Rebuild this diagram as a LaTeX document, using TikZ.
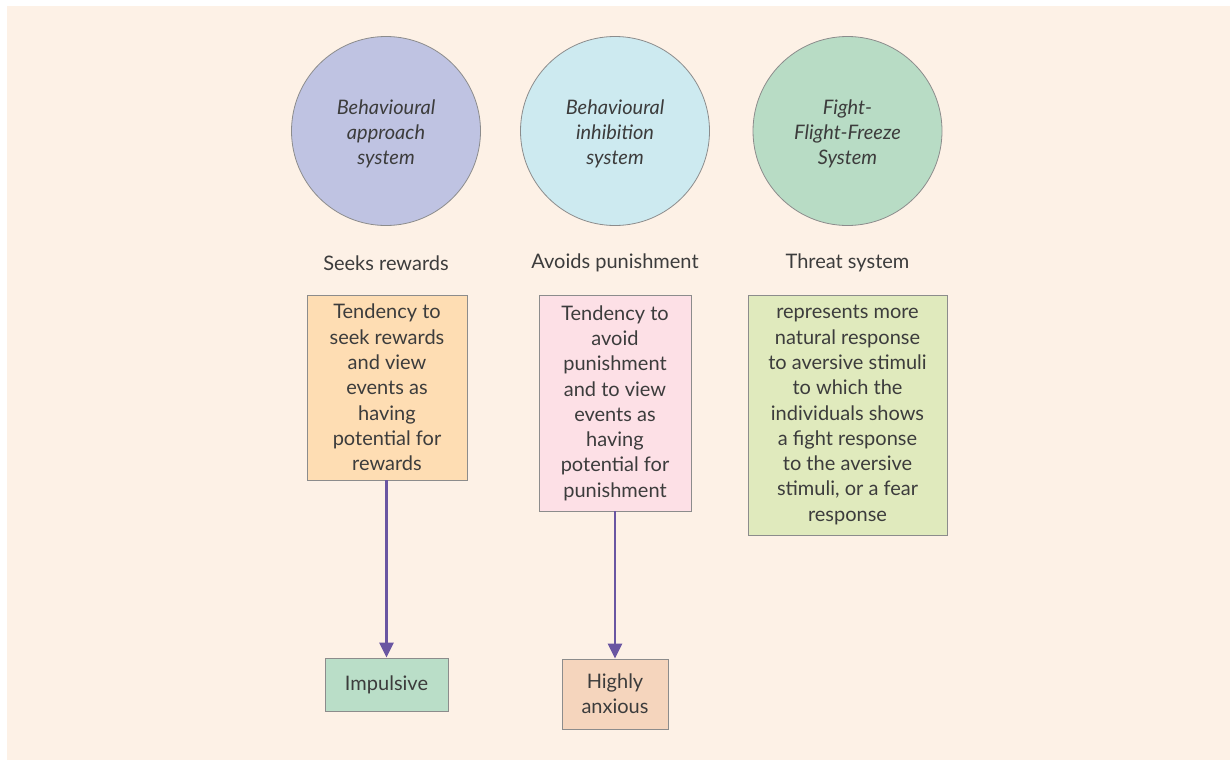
\documentclass[tikz,border=0pt]{standalone}
\usepackage{fontspec}
\setmainfont{Lato}
\usetikzlibrary{arrows.meta}
\definecolor{bgcream}{HTML}{FDF1E6}
\definecolor{edgegray}{HTML}{8C8C8C}
\definecolor{txtgray}{HTML}{3C3C3C}
\definecolor{arrowpurple}{HTML}{6A56A2}
\definecolor{bascol}{HTML}{BFC3E2}
\definecolor{biscol}{HTML}{CDEAF0}
\definecolor{fffcol}{HTML}{B8DCC5}
\definecolor{boxorange}{HTML}{FEDDB3}
\definecolor{boxpink}{HTML}{FDE0E6}
\definecolor{boxlime}{HTML}{E0EABD}
\definecolor{boxmint}{HTML}{BADEC8}
\definecolor{boxpeach}{HTML}{F5D5BD}
\tikzset{
  sysnode/.style={circle, draw=edgegray, line width=0.8pt, minimum size=189pt,
    inner sep=0pt},
  systext/.style={text=txtgray, align=center, inner sep=0pt,
    font=\fontsize{20}{25.3}\selectfont\itshape},
  lbl/.style={text=txtgray, font=\fontsize{20}{25.3}\selectfont, inner sep=0pt},
  descbox/.style={rectangle, draw=edgegray, line width=0.8pt, text=txtgray,
    align=center, font=\fontsize{20}{25.3}\selectfont, inner sep=0pt},
  flow/.style={draw=arrowpurple, line width=2.4pt,
    -{Triangle[length=15pt,width=14pt]}}
}
\begin{document}
\begin{tikzpicture}[x=1pt,y=-1pt]
  \useasboundingbox (0,0) rectangle (1230,760);
  \fill[white] (0,0) rectangle (1230,760);
  \fill[bgcream] (7,6) rectangle (1230,760);

  % the three systems
  \node[sysnode, fill=bascol] (bas) at (386,131) {};
  \node[sysnode, fill=biscol] (bis) at (615,131) {};
  \node[sysnode, fill=fffcol] (fff) at (847.5,131) {};
  \node[systext] (bastext) at ([yshift=-3pt]bas.center) {Behavioural\\approach\\system};
  \node[systext] (bistext) at ([yshift=-3pt]bis.center) {Behavioural\\inhibition\\system};
  \node[systext] (ffftext) at ([yshift=-3pt]fff.center) {Fight-\\Flight-Freeze\\System};

  % short captions
  \node[lbl] (seek) at (386,263) {Seeks rewards};
  \node[lbl] (avoid) at (615,263) {Avoids punishment};
  \node[lbl] (threat) at (847.5,263) {Threat system};

  % description boxes
  \node[descbox, fill=boxorange, minimum width=160pt, minimum height=185pt] (d1) at (387,387.5)
    {Tendency to\\seek rewards\\and view\\events as\\having\\potential for\\rewards};
  \node[descbox, fill=boxpink, minimum width=152pt, minimum height=216pt] (d2) at (615,403)
    {Tendency to\\avoid\\punishment\\and to view\\events as\\having\\potential for\\punishment};
  \node[descbox, fill=boxlime, minimum width=199pt, minimum height=240pt] (d3) at (847.5,415)
    {represents more\\natural response\\to aversive stimuli\\to which the\\individuals shows\\a fight response\\to the aversive\\stimuli, or a fear\\response};

  % outcomes
  \node[descbox, fill=boxmint, minimum width=123pt, minimum height=53pt] (imp) at (386.5,684.5) {Impulsive};
  \node[descbox, fill=boxpeach, minimum width=106pt, minimum height=70pt] (anx) at (615,694) {Highly\\anxious};

  \draw[flow] (d1.south -| imp.north) -- (imp.north);
  \draw[flow] (d2.south) -- (d2.south |- anx.north);
\end{tikzpicture}
\end{document}
